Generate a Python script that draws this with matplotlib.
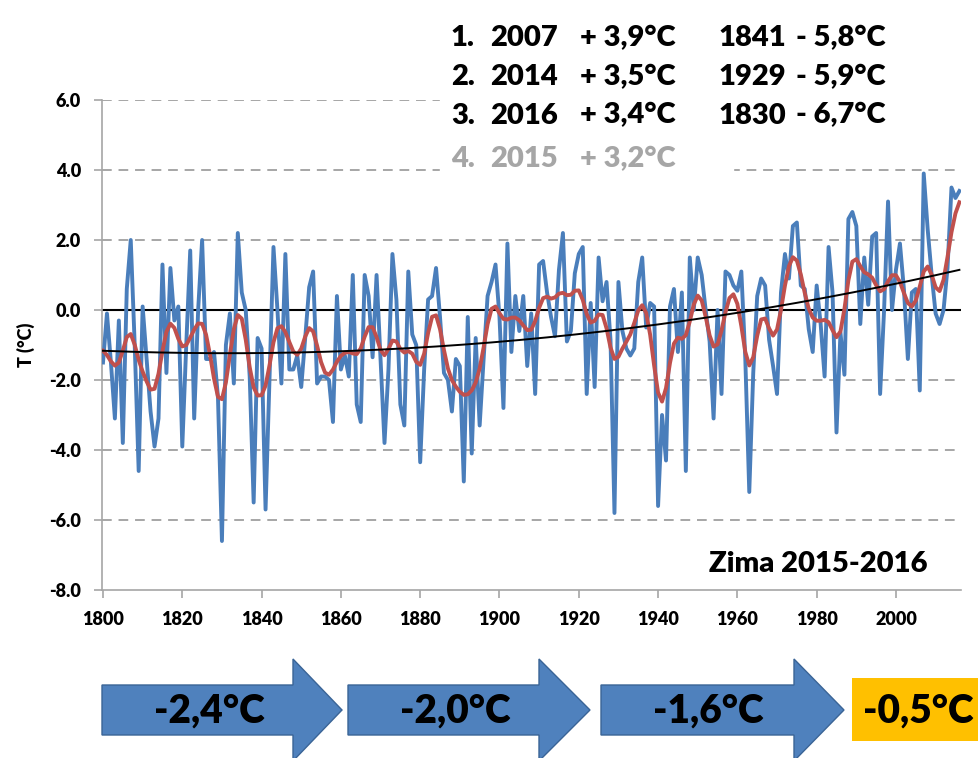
import numpy as np
import matplotlib
matplotlib.use("Agg")
import matplotlib.pyplot as plt
from matplotlib.patches import Polygon, Rectangle

plt.rcParams['font.family'] = ['Lato', 'DejaVu Sans']
plt.rcParams['font.weight'] = 'heavy'
plt.rcParams['axes.labelweight'] = 'heavy'

# winter temperature, one value per year 1800-2016
years = np.arange(1800, 2017)
temps = np.array([
    -1.5, -0.1, -1.5, -3.1, -0.3, -3.8, 0.6, 2.0, -1.0, -4.6,      # 1800s
    0.1, -1.4, -2.9, -3.9, -3.1, 1.3, -1.8, 1.2, -0.3, 0.1,        # 1810s
    -3.9, -1.0, 1.7, -3.1, 0.0, 2.0, -1.4, -1.4, -1.2, -2.5,       # 1820s
    -6.6, -1.0, -0.1, -2.1, 2.2, 0.5, 0.0, -1.9, -5.5, -0.8,       # 1830s
    -1.1, -5.7, -2.0, 1.8, 0.0, -2.1, 1.6, -1.7, -1.7, -1.3,       # 1840s
    -2.2, -0.8, 0.65, 1.1, -2.1, -1.9, -1.9, -2.0, -3.2, 0.4,      # 1850s
    -1.7, -1.3, -1.9, 1.0, -2.7, -3.2, 1.0, 0.4, -1.35, 1.0,       # 1860s
    -1.4, -3.8, -1.7, 1.6, 0.3, -2.7, -3.3, 1.1, -0.7, -1.0,       # 1870s
    -4.35, -1.7, 0.3, 0.4, 1.2, -0.2, -1.8, -2.0, -2.9, -1.4,      # 1880s
    -1.6, -4.9, -0.2, -4.1, -0.8, -3.3, -1.4, 0.4, 0.8, 1.3,       # 1890s
    -0.2, -2.8, 1.9, -1.2, 0.4, -0.6, 0.4, -1.6, -0.1, -2.4,       # 1900s
    1.3, 1.4, 0.5, -0.2, -0.75, 1.15, 2.2, -0.9, -0.6, 1.05,       # 1910s
    1.6, 1.8, -2.4, 0.2, -2.2, 1.5, 0.25, 0.8, -0.85, -5.8,        # 1920s
    0.8, -0.6, -1.1, -1.3, -1.1, 0.8, 1.5, -0.5, 0.2, 0.1,         # 1930s
    -5.6, -3.0, -4.3, 0.1, 0.6, -1.2, 0.5, -4.6, 1.5, 0.0,         # 1940s
    1.5, 1.0, 0.0, -0.9, -3.1, 0.0, -2.4, 1.1, 1.0, 0.7,           # 1950s
    0.55, 1.1, -1.4, -5.2, -1.8, 0.4, 0.9, 0.7, -0.85, -1.6,       # 1960s
    -2.4, 0.5, 1.6, 0.9, 2.4, 2.5, 0.7, 0.6, -0.55, -1.2,          # 1970s
    0.7, -0.4, -1.9, 1.8, 0.5, -3.5, -0.65, -1.85, 2.6, 2.8,       # 1980s
    2.4, -0.4, 1.5, 0.15, 2.1, 2.2, -2.4, 0.0, 3.1, 0.0,           # 1990s
    1.15, 1.9, 0.6, -1.4, 0.5, 0.6, -2.3, 3.9, 2.3, 1.0,           # 2000s
    -0.1, -0.4, 0.0, 1.2, 3.5, 3.2, 3.4,                           # 2010s
])

# records table
warm_rank = ["1.", "2.", "3.", "4."]
warm_years = ["2007", "2014", "2016", "2015"]
warm_vals = ["+ 3,9°C", "+ 3,5°C", "+ 3,4°C", "+ 3,2°C"]
cold_years = ["1841", "1929", "1830"]
cold_vals = ["- 5,8°C", "- 5,9°C", "- 6,7°C"]

# period averages (arrows)
period_vals = ["-2,4°C", "-2,0°C", "-1,6°C", "-0,5°C"]


def smooth(v, sigma=1.7, half=5):
    out = np.empty(len(v))
    for i in range(len(v)):
        lo, hi = max(0, i - half), min(len(v), i + half + 1)
        k = np.arange(lo, hi) - i
        w = np.exp(-0.5 * (k / sigma) ** 2)
        out[i] = np.sum(w * v[lo:hi]) / w.sum()
    return out


red = smooth(temps)
trend = np.polyval(np.polyfit(years, temps, 2), years)

fig = plt.figure(figsize=(9.79, 7.58), dpi=100)
ax = fig.add_axes([102 / 979, 1 - 590 / 758, 859 / 979, 490 / 758])

grid_c = "#a6a6a6"
for y in [6, 4, 2, -2, -4, -6]:
    ax.axhline(y, color=grid_c, lw=1.4, ls=(0, (5, 3.5)), zorder=1)
ax.axhline(0, color="black", lw=1.5, zorder=2)

ax.plot(years, temps, color="#4a7ebb", lw=2.8, zorder=3)
ax.plot(years, red, color="#c0504d", lw=2.8, zorder=4)
ax.plot(years, trend, color="black", lw=1.4, zorder=5)

ax.set_xlim(1799.75, 2016.4)
ax.set_ylim(-8, 6)
ax.set_xticks(range(1800, 2001, 20))
ax.set_yticks(range(-8, 7, 2))
ax.set_yticklabels([f"{v:.1f}" for v in range(-8, 7, 2)])
for s in ["top", "right"]:
    ax.spines[s].set_visible(False)
for s in ["left", "bottom"]:
    ax.spines[s].set_color(grid_c)
    ax.spines[s].set_linewidth(1.2)
ax.tick_params(axis="both", colors=grid_c, labelcolor="black", length=6,
               width=1.2, labelsize=13, pad=9)
ax.set_ylabel("T (°C)", fontsize=13, labelpad=10)
ax.text(2008, -7.25, "Zima 2015-2016", ha="right", va="center", fontsize=21)

# overlay for the records table and the arrows (pixel coordinates)
ov = fig.add_axes([0, 0, 1, 1], zorder=10)
ov.set_xlim(0, 979)
ov.set_ylim(758, 0)
ov.axis("off")
ov.patch.set_alpha(0)

ov.add_patch(Rectangle((440, 0), 539, 132, color="white", zorder=1))
ov.add_patch(Rectangle((440, 132), 293, 55, color="white", zorder=1))

baselines = [46, 85, 123.5, 167]
for i in range(4):
    c = "black" if i < 3 else "#a6a6a6"
    ov.text(451, baselines[i], warm_rank[i], fontsize=21, color=c, va="baseline", zorder=2)
    ov.text(490, baselines[i], warm_years[i], fontsize=21, color=c, va="baseline", zorder=2)
    ov.text(580, baselines[i], warm_vals[i], fontsize=21, color=c, va="baseline", zorder=2)
for i in range(3):
    ov.text(719, baselines[i], cold_years[i], fontsize=21, va="baseline", zorder=2)
    ov.text(796, baselines[i], cold_vals[i], fontsize=21, va="baseline", zorder=2)

arrows = [(102, 293, 342), (348, 539, 590), (601, 794, 844)]
for (x0, xh, tip), lab in zip(arrows, period_vals[:3]):
    pts = [(x0, 685), (xh, 685), (xh, 659), (tip, 710), (xh, 761),
           (xh, 735), (x0, 735)]
    ov.add_patch(Polygon(pts, closed=True, facecolor="#4f81bd",
                         edgecolor="#3a6496", lw=1, zorder=1))
    ov.text(x0 + 107, 711, lab, fontsize=28, ha="center", va="center", zorder=2)

ov.add_patch(Rectangle((852, 678), 140, 63, facecolor="#ffc000",
                       edgecolor="none", zorder=1))
ov.text(918, 711, period_vals[3], fontsize=28, ha="center", va="center", zorder=2)

fig.savefig("out.png", dpi=100, facecolor="white")
